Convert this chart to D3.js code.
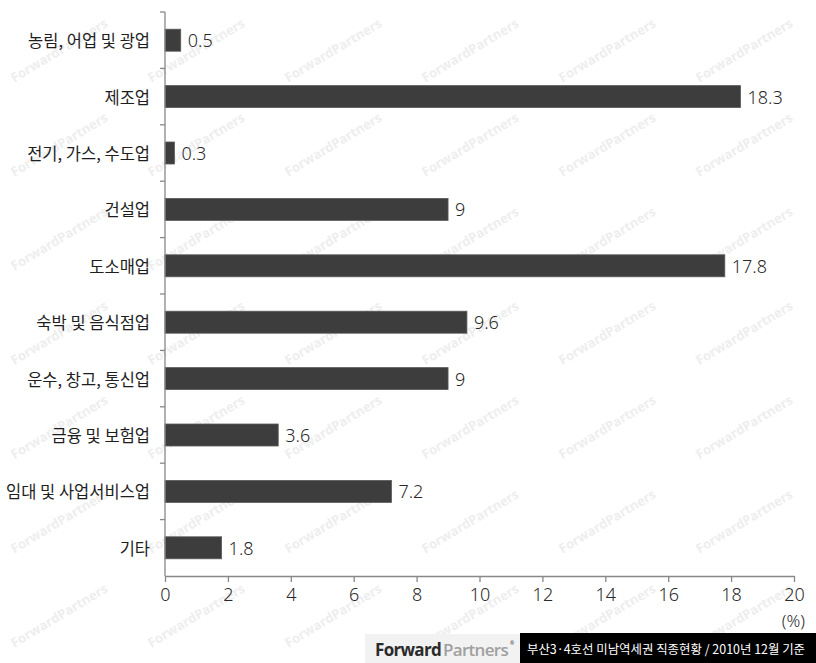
<!DOCTYPE html>
<html><head><meta charset="utf-8">
<script src="https://cdn.jsdelivr.net/npm/d3@7"></script>
<style>
html,body{margin:0;padding:0;background:#fff;}
svg{display:block;}
</style></head>
<body>
<svg id="c" width="816" height="663"></svg>
<script>
const categories = ["농림, 어업 및 광업","제조업","전기, 가스, 수도업","건설업","도소매업","숙박 및 음식점업","운수, 창고, 통신업","금융 및 보험업","임대 및 사업서비스업","기타"];
const values = [0.5, 18.3, 0.3, 9, 17.8, 9.6, 9, 3.6, 7.2, 1.8];
const valueLabels = ["0.5","18.3","0.3","9","17.8","9.6","9","3.6","7.2","1.8"];
const xTicks = [0,2,4,6,8,10,12,14,16,18,20];
const unitLabel = "(%)";
const footerBrand1 = "Forward";
const footerBrand2 = "Partners";
const footerText = "부산3·4호선 미남역세권 직종현황 / 2010년 12월 기준";
const watermark = "ForwardPartners";

(function(){
const svg = d3.select("#c");
const mLeft = 165, mRight = 794, mTop = 12, mBottom = 576;
const x = d3.scaleLinear().domain([0,20]).range([mLeft,mRight]);
const y = d3.scaleBand().domain(categories).range([mTop,mBottom]).paddingInner(0.61).paddingOuter(0.305);
const numFont = "'Noto Sans', 'Open Sans', sans-serif";

// watermarks
const wm = svg.append("g");
const cols = d3.range(6).map(i=>59+i*137);
const rows = d3.range(7).map(i=>50+i*94.2);
rows.forEach(ry=>cols.forEach(cx=>{
  wm.append("text").attr("transform",`translate(${cx},${ry}) rotate(-31)`)
    .attr("text-anchor","middle").attr("dominant-baseline","central")
    .attr("font-family","'Open Sans', 'Noto Sans', sans-serif").attr("font-weight",700)
    .attr("font-size",13).attr("fill","#eeeeee").text(watermark);
}));

// bars
svg.append("g").selectAll("rect").data(categories).join("rect")
  .attr("x", x(0)).attr("y", d=>y(d))
  .attr("width", (d,i)=>x(values[i])-x(0)).attr("height", y.bandwidth())
  .attr("fill","#3d3d3d").attr("stroke","#5a5a5a").attr("stroke-width",0.8);

// value labels
svg.append("g").selectAll("text").data(categories).join("text")
  .attr("x",(d,i)=>x(values[i])+7).attr("y",d=>y(d)+y.bandwidth()/2)
  .attr("dominant-baseline","central")
  .attr("font-family",numFont).attr("font-weight",300).attr("font-size",18).attr("fill","#2a2a2a")
  .text((d,i)=>valueLabels[i]);

// y axis: line and ticks at band boundaries
const yAxisG = svg.append("g");
yAxisG.append("line").attr("x1",mLeft).attr("x2",mLeft).attr("y1",mTop).attr("y2",mBottom)
  .attr("stroke","#888").attr("stroke-width",1.3);
const step = y.step();
const bounds = d3.range(categories.length).map(i=>mTop+i*step);
yAxisG.selectAll("line.t").data(bounds).join("line").attr("class","t")
  .attr("x1",mLeft-5).attr("x2",mLeft).attr("y1",d=>d).attr("y2",d=>d)
  .attr("stroke","#888").attr("stroke-width",1.3);
yAxisG.selectAll("text").data(categories).join("text")
  .attr("x",mLeft-15).attr("y",d=>y(d)+y.bandwidth()/2)
  .attr("text-anchor","end").attr("dominant-baseline","central")
  .attr("font-family","'Noto Sans CJK KR', sans-serif").attr("font-size",16.5).attr("fill","#1e1e1e")
  .text(d=>d);

// x axis
const xAxis = d3.axisBottom(x).tickValues(xTicks).tickSize(6).tickPadding(6).tickSizeOuter(0);
const xg = svg.append("g").attr("transform",`translate(0,${mBottom})`).call(xAxis);
xg.select(".domain").attr("stroke","#888").attr("stroke-width",1.3);
xg.selectAll(".tick line").attr("stroke","#888").attr("stroke-width",1.3);
xg.selectAll(".tick text").attr("font-family",numFont).attr("font-weight",300).attr("font-size",18).attr("fill","#2a2a2a");

svg.append("text").attr("x",805).attr("y",620).attr("text-anchor","end").attr("dominant-baseline","central")
  .attr("font-family",numFont).attr("font-weight",300).attr("font-size",17).attr("fill","#2a2a2a").text(unitLabel);

// footer
svg.append("rect").attr("x",365).attr("y",634).attr("width",155).attr("height",29).attr("fill","#f2f2f2");
svg.append("rect").attr("x",520).attr("y",633).attr("width",296).attr("height",30).attr("fill","#000");
const brand = svg.append("text").attr("x",375).attr("y",649).attr("dominant-baseline","central")
  .attr("font-family","'Open Sans', 'Noto Sans', sans-serif").attr("font-weight",700).attr("font-size",17).attr("letter-spacing",-0.7);
brand.append("tspan").attr("fill","#2b2b2b").text(footerBrand1);
brand.append("tspan").attr("fill","#a0a0a0").attr("font-weight",600).attr("dx",2).text(footerBrand2);
brand.append("tspan").attr("fill","#555").attr("font-size",5).attr("dy",-6).attr("dx",2).text("®");
svg.append("text").attr("x",527).attr("y",648).attr("dominant-baseline","central")
  .attr("font-family","'Noto Sans CJK KR', sans-serif").attr("font-size",12.5).attr("fill","#fff")
  .attr("textLength",278).attr("lengthAdjust","spacingAndGlyphs").text(footerText);
})();
</script>
</body></html>
